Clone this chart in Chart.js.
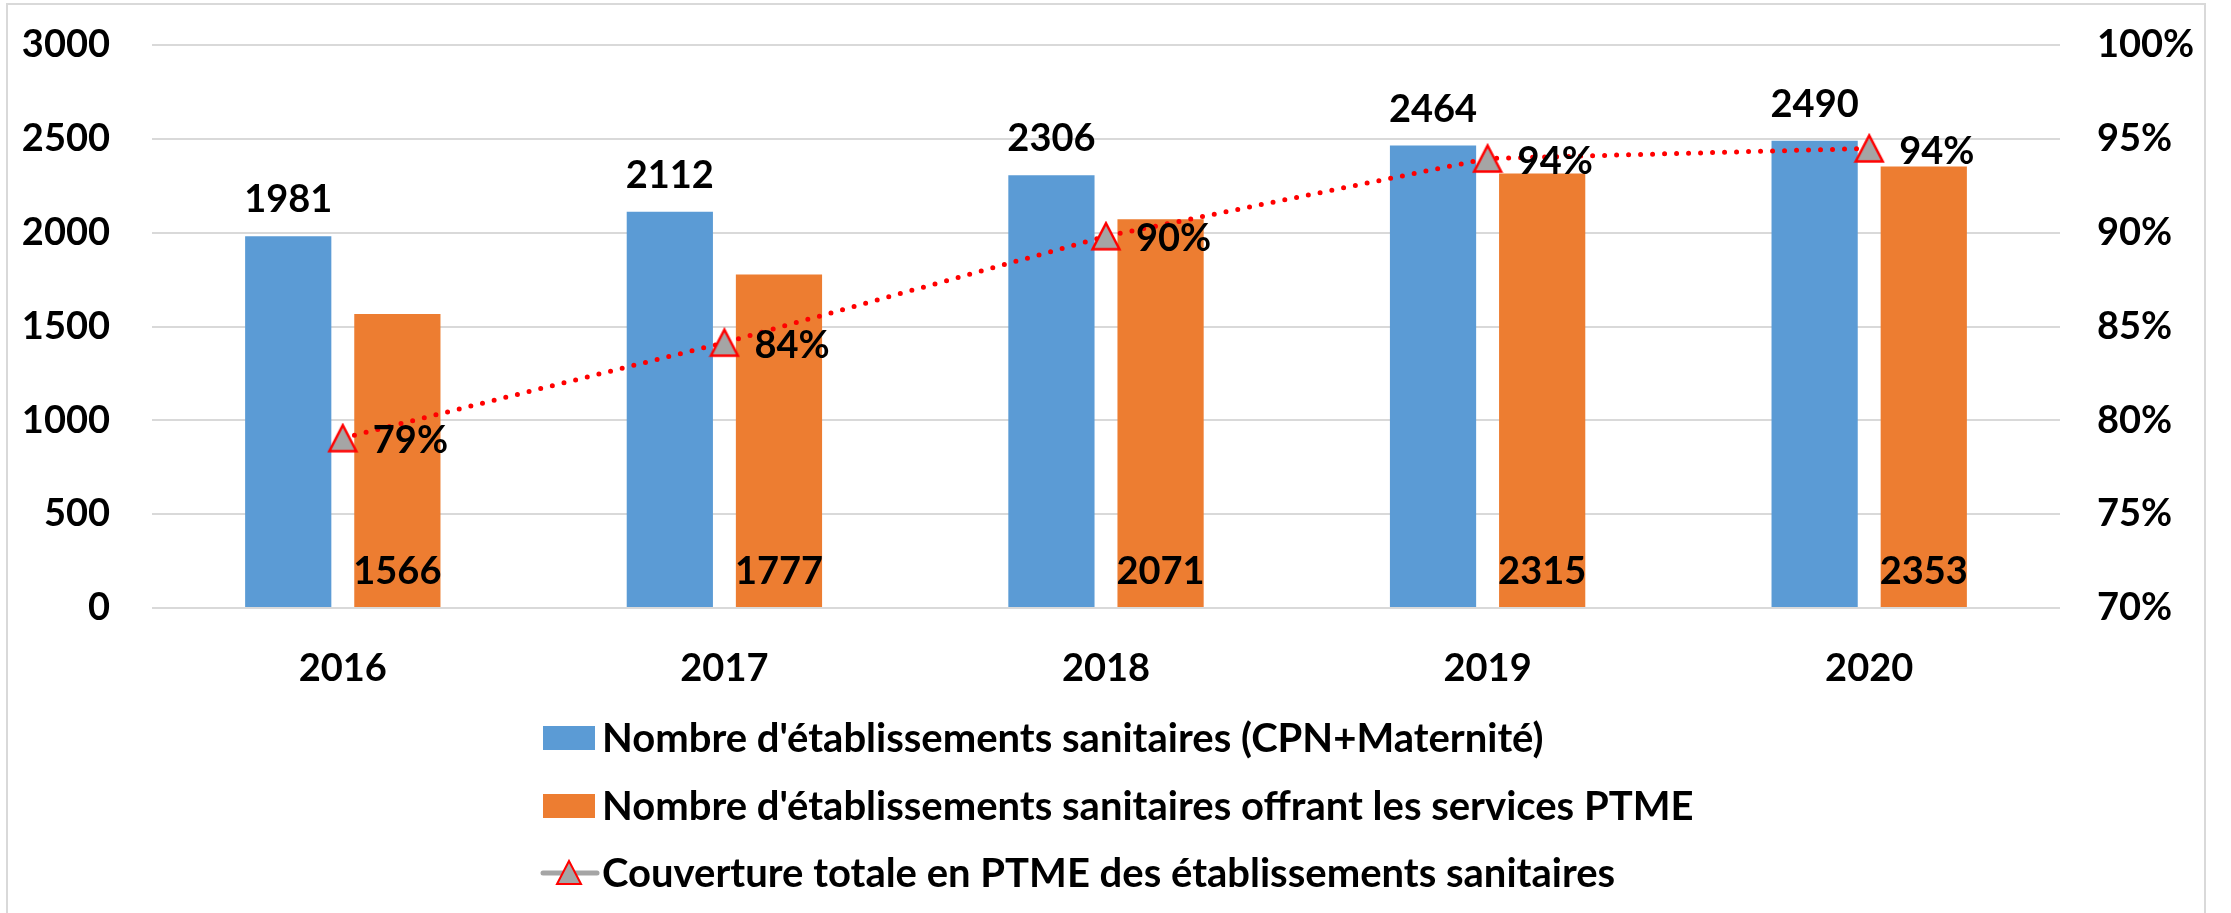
<!DOCTYPE html>
<html>
<head>
<meta charset="utf-8">
<script src="https://cdn.jsdelivr.net/npm/chart.js@4.4.1/dist/chart.umd.min.js"></script>
<style>
  html, body { margin: 0; padding: 0; background: #fff; overflow: hidden; }
  #wrap { position: relative; width: 2231px; height: 913px; }
  #frame { position: absolute; left: 6px; top: 3px; width: 2200px; height: 920px; border: 2px solid #d9d9d9; box-sizing: border-box; pointer-events: none; }
  canvas { display: block; }
</style>
</head>
<body>
<div id="wrap">
  <canvas id="chart" width="2231" height="913"></canvas>
  <div id="frame"></div>
</div>
<script>
const years = ['2016', '2017', '2018', '2019', '2020'];
const etablissements = [1981, 2112, 2306, 2464, 2490];
const etablissementsPTME = [1566, 1777, 2071, 2315, 2353];
const couverture = [79.05, 84.14, 89.81, 93.95, 94.49];

const seriesLabels = [
  "Nombre d'établissements sanitaires (CPN+Maternité)",
  "Nombre d'établissements sanitaires offrant les services PTME",
  "Couverture totale en PTME des établissements sanitaires"
];

const BLUE = '#5B9BD5';
const ORANGE = '#ED7D31';
const GREY = '#A5A5A5';
const RED = '#FF0000';
const FONT = 'Lato, "Liberation Sans", sans-serif';

// triangle marker centred on its box (like the Excel one)
function triangleMarker(w, h, lw) {
  const c = document.createElement('canvas');
  c.width = w + 2 * lw;
  c.height = h + 2 * lw;
  const g = c.getContext('2d');
  g.beginPath();
  g.moveTo(c.width / 2, lw);
  g.lineTo(c.width - lw, lw + h);
  g.lineTo(lw, lw + h);
  g.closePath();
  g.fillStyle = GREY;
  g.fill();
  g.strokeStyle = RED;
  g.lineWidth = lw;
  g.lineJoin = 'miter';
  g.stroke();
  return c;
}
const marker = triangleMarker(27, 26, 2.5);

// value labels drawn after the datasets
const valueLabels = {
  id: 'valueLabels',
  afterDatasetsDraw(chart) {
    const ctx = chart.ctx;
    ctx.save();
    ctx.fillStyle = '#000';
    ctx.font = 'bold 38px ' + FONT;
    chart.data.datasets.forEach((ds, i) => {
      const meta = chart.getDatasetMeta(i);
      meta.data.forEach((el, j) => {
        const v = ds.data[j];
        if (ds.type === 'line') {
          ctx.textAlign = 'left';
          ctx.textBaseline = 'middle';
          ctx.fillText(Math.round(v) + '%', el.x + 30, el.y + 3);
        } else if (ds.labelPos === 'top') {
          ctx.textAlign = 'center';
          ctx.textBaseline = 'alphabetic';
          ctx.fillText(v, el.x, el.y - 24);
        } else {
          ctx.textAlign = 'center';
          ctx.textBaseline = 'alphabetic';
          ctx.fillText(v, el.x, el.base - 23);
        }
      });
    });
    ctx.restore();
  }
};

// legend, one entry per row under the plot
const rowLegend = {
  id: 'rowLegend',
  afterDraw(chart) {
    const ctx = chart.ctx;
    const x0 = 543, rows = [738, 806, 873];
    ctx.save();
    ctx.font = 'bold 40px ' + FONT;
    ctx.textAlign = 'left';
    ctx.textBaseline = 'middle';
    seriesLabels.forEach((label, i) => {
      const y = rows[i];
      if (i < 2) {
        ctx.fillStyle = i === 0 ? BLUE : ORANGE;
        ctx.fillRect(x0, y - 12, 52, 24);
      } else {
        ctx.strokeStyle = GREY;
        ctx.lineWidth = 5;
        ctx.lineCap = 'round';
        ctx.beginPath();
        ctx.moveTo(x0, y);
        ctx.lineTo(x0 + 54, y);
        ctx.stroke();
        ctx.beginPath();
        ctx.moveTo(x0 + 26, y - 12);
        ctx.lineTo(x0 + 38, y + 11);
        ctx.lineTo(x0 + 14, y + 11);
        ctx.closePath();
        ctx.fillStyle = GREY;
        ctx.fill();
        ctx.strokeStyle = RED;
        ctx.lineWidth = 2;
        ctx.lineCap = 'butt';
        ctx.stroke();
      }
      ctx.fillStyle = '#000';
      ctx.fillText(label, x0 + 59, y + 1);
    });
    ctx.restore();
  }
};

const tickFont = { family: FONT, weight: 'bold', size: 38 };

new Chart(document.getElementById('chart'), {
  type: 'bar',
  data: {
    labels: years,
    datasets: [
      {
        type: 'line',
        label: seriesLabels[2],
        data: couverture,
        yAxisID: 'y1',
        order: 0,
        borderColor: RED,
        borderWidth: 5,
        borderDash: [0, 12],
        borderCapStyle: 'round',
        pointStyle: marker,
        pointRadius: 15,
        tension: 0
      },
      {
        label: seriesLabels[0],
        data: etablissements,
        backgroundColor: BLUE,
        yAxisID: 'y',
        order: 1,
        labelPos: 'top',
        categoryPercentage: 0.572,
        barPercentage: 0.79
      },
      {
        label: seriesLabels[1],
        data: etablissementsPTME,
        backgroundColor: ORANGE,
        yAxisID: 'y',
        order: 1,
        labelPos: 'base',
        categoryPercentage: 0.572,
        barPercentage: 0.79
      }
    ]
  },
  options: {
    responsive: false,
    devicePixelRatio: 1,
    animation: false,
    layout: { padding: { top: 45, left: 0, right: 0, bottom: 225 } },
    plugins: {
      legend: { display: false },
      tooltip: { enabled: false }
    },
    scales: {
      x: {
        grid: { display: false },
        border: { display: false },
        ticks: { color: '#000', font: tickFont, padding: 30 },
        afterFit(s) { s.height = 80; s.paddingLeft = 0; s.paddingRight = 0; }
      },
      y: {
        position: 'left',
        min: 0,
        max: 3000,
        ticks: { stepSize: 500, color: '#000', font: tickFont, padding: 42, callback: v => String(v) },
        grid: { color: '#d9d9d9', lineWidth: 2, drawTicks: false },
        border: { display: false },
        afterFit(s) { s.width = 152; s.paddingTop = 0; s.paddingBottom = 0; }
      },
      y1: {
        position: 'right',
        min: 70,
        max: 100,
        ticks: { stepSize: 5, color: '#000', font: tickFont, padding: 37, callback: v => v + '%' },
        grid: { display: false, drawTicks: false },
        border: { display: false },
        afterFit(s) { s.width = 171; s.paddingTop = 0; s.paddingBottom = 0; }
      }
    }
  },
  plugins: [valueLabels, rowLegend]
});
</script>
</body>
</html>
